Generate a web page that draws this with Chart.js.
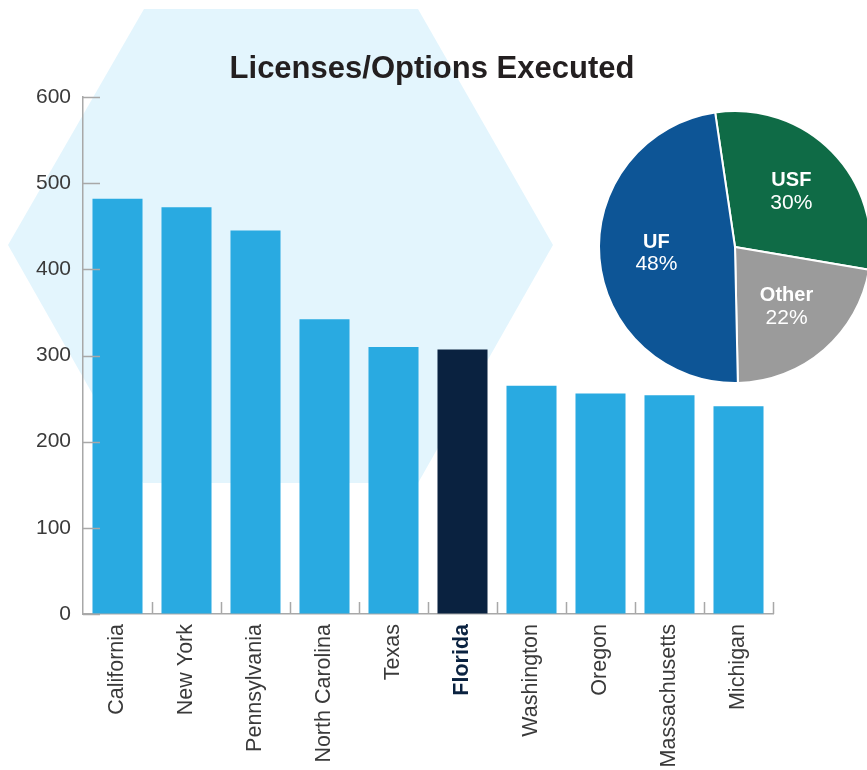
<!DOCTYPE html>
<html>
<head>
<meta charset="utf-8">
<script src="https://cdn.jsdelivr.net/npm/chart.js@4.4.0/dist/chart.umd.min.js"></script>
<style>
  html, body { margin: 0; padding: 0; background: #fff; }
  #wrap { position: relative; width: 867px; height: 770px; overflow: hidden; }
  #hex {
    position: absolute; left: 0; top: 0; width: 867px; height: 770px;
    background: #e3f5fd;
    clip-path: polygon(144px 9px, 418px 9px, 553px 245px, 418px 483px, 143px 483px, 8px 245px);
  }
  #bars { position: absolute; left: 0; top: 0; }
  #pie { position: absolute; left: 595px; top: 107px; }
</style>
</head>
<body>
<div id="wrap">
  <div id="hex"></div>
  <canvas id="bars" width="867" height="770"></canvas>
  <canvas id="pie" width="280" height="280"></canvas>
</div>
<script>
const states = ['California', 'New York', 'Pennsylvania', 'North Carolina', 'Texas',
  'Florida', 'Washington', 'Oregon', 'Massachusetts', 'Michigan'];
const licenses = [482, 472, 445, 342, 310, 307, 265, 256, 254, 241];
const highlight = 'Florida';
const chartTitle = 'Licenses/Options Executed';

const pieLabels = ['USF', 'Other', 'UF'];
const pieShares = [30, 22, 48];

const fontFamily = '"Liberation Sans", Arial, Helvetica, sans-serif';
const lightBlue = '#29aae1';
const navy = '#0a2240';
const axisGrey = '#a8a8a8';

// title centred on the whole page, not on the plot area
const pageTitle = {
  id: 'pageTitle',
  afterDraw(chart) {
    const ctx = chart.ctx;
    ctx.save();
    ctx.fillStyle = '#231f20';
    ctx.font = 'bold 31px ' + fontFamily;
    ctx.textAlign = 'center';
    ctx.textBaseline = 'alphabetic';
    ctx.fillText(chartTitle, 432, 78);
    ctx.restore();
  }
};

// small tick marks drawn on the inside of both axes
const innerTicks = {
  id: 'innerTicks',
  afterDraw(chart) {
    const ctx = chart.ctx;
    const x = chart.scales.x;
    const y = chart.scales.y;
    ctx.save();
    ctx.strokeStyle = axisGrey;
    ctx.lineWidth = 1.5;
    ctx.beginPath();
    y.ticks.forEach((t) => {
      const py = Math.round(y.getPixelForValue(t.value)) + 0.5;
      ctx.moveTo(y.right, py);
      ctx.lineTo(y.right + 17, py);
    });
    for (let i = 1; i <= states.length; i++) {
      const px = Math.round(x.getPixelForValue(i - 0.5)) + 0.5;
      ctx.moveTo(px, x.top);
      ctx.lineTo(px, x.top - 12);
    }
    ctx.stroke();
    ctx.restore();
  }
};

new Chart(document.getElementById('bars'), {
  type: 'bar',
  data: {
    labels: states,
    datasets: [{
      data: licenses,
      backgroundColor: states.map((s) => (s === highlight ? navy : lightBlue)),
      borderWidth: 0,
      categoryPercentage: 1,
      barPercentage: 0.725
    }]
  },
  options: {
    responsive: false,
    animation: false,
    devicePixelRatio: 1,
    layout: { padding: { top: 97, right: 94, bottom: 0, left: 0 } },
    plugins: {
      legend: { display: false },
      tooltip: { enabled: false },
      title: { display: false }
    },
    scales: {
      x: {
        grid: { display: true, drawOnChartArea: false, drawTicks: false },
        border: { display: true, color: axisGrey, width: 1.5 },
        afterFit(scale) { scale.height = 156; },
        ticks: {
          minRotation: 90,
          maxRotation: 90,
          padding: 10,
          autoSkip: false,
          color: (c) => (c.tick && c.tick.label === highlight ? navy : '#3a3a3a'),
          font: (c) => ({
            family: fontFamily,
            size: 21.5,
            weight: c.tick && c.tick.label === highlight ? 'bold' : 'normal'
          })
        }
      },
      y: {
        min: 0,
        max: 600,
        grid: { display: true, drawOnChartArea: false, drawTicks: false },
        border: { display: true, color: axisGrey, width: 1.5 },
        afterFit(scale) { scale.width = 83; },
        ticks: {
          stepSize: 100,
          padding: 12,
          color: '#3a3a3a',
          font: { family: fontFamily, size: 21 }
        }
      }
    }
  },
  plugins: [innerTicks, pageTitle]
});

// name + percentage written inside each slice
const sliceLabels = {
  id: 'sliceLabels',
  afterDatasetsDraw(chart) {
    const ctx = chart.ctx;
    const meta = chart.getDatasetMeta(0);
    ctx.save();
    ctx.fillStyle = '#fff';
    ctx.textAlign = 'center';
    ctx.textBaseline = 'middle';
    meta.data.forEach((arc, i) => {
      const mid = (arc.startAngle + arc.endAngle) / 2;
      const r = arc.outerRadius * 0.58;
      const cx = arc.x + Math.cos(mid) * r;
      const cy = arc.y + Math.sin(mid) * r;
      ctx.font = 'bold 20px ' + fontFamily;
      ctx.fillText(pieLabels[i], cx, cy - 11);
      ctx.font = '21px ' + fontFamily;
      ctx.fillText(pieShares[i] + '%', cx, cy + 11);
    });
    ctx.restore();
  }
};

new Chart(document.getElementById('pie'), {
  type: 'pie',
  data: {
    labels: pieLabels,
    datasets: [{
      data: pieShares,
      backgroundColor: ['#0f6b46', '#9b9b9b', '#0d5596'],
      borderColor: '#fff',
      borderWidth: 2
    }]
  },
  options: {
    responsive: false,
    animation: false,
    devicePixelRatio: 1,
    rotation: -8.4,
    layout: { padding: 3 },
    plugins: {
      legend: { display: false },
      tooltip: { enabled: false }
    }
  },
  plugins: [sliceLabels]
});
</script>
</body>
</html>
